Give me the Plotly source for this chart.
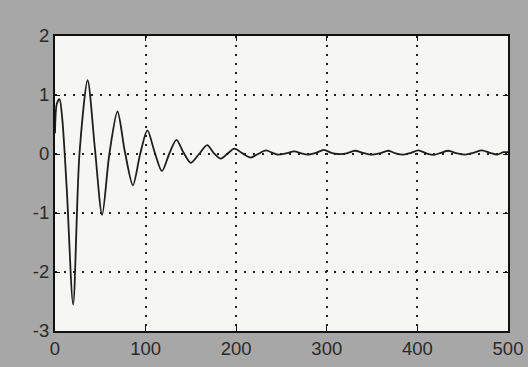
import plotly.graph_objects as go

# sample index and response value (peaks, troughs, crossings)
t_vals = [0, 2, 5, 8, 13, 20, 27, 36, 44, 52, 60, 69, 77, 86, 94, 102, 110, 118, 126,
          134, 142, 150, 159, 168, 175, 183, 190, 198, 207, 216, 224, 233, 240, 246,
          255, 264, 272, 279, 288, 297, 305, 312, 322, 331, 340, 349, 358, 368, 376,
          385, 393, 401, 410, 418, 426, 434, 444, 453, 462, 471, 480, 488, 495, 500]
y_vals = [0.35, 0.85, 0.93, 0.6, -0.6, -2.55, 0.0, 1.25, 0.1, -1.03, 0.0, 0.72, 0.05,
          -0.53, 0.0, 0.40, 0.03, -0.29, 0.0, 0.24, 0.02, -0.15, 0.0, 0.15, 0.02, -0.08,
          0.0, 0.09, 0.01, -0.06, 0.0, 0.06, 0.02, -0.01, 0.01, 0.045, 0.01, -0.01, 0.02,
          0.07, 0.02, 0.0, 0.01, 0.055, 0.02, -0.01, 0.01, 0.055, 0.01, -0.01, 0.02, 0.06,
          0.01, -0.015, 0.02, 0.055, 0.01, -0.01, 0.02, 0.06, 0.02, -0.01, 0.03, 0.03]

x_ticks = [0, 100, 200, 300, 400, 500]
y_ticks = [-3, -2, -1, 0, 1, 2]

fig = go.Figure()
fig.add_trace(go.Scatter(
    x=t_vals, y=y_vals, mode="lines",
    line=dict(color="#1e1e1e", width=1.8, shape="spline", smoothing=0.8),
    showlegend=False, hoverinfo="skip",
))

font = dict(family="Liberation Sans, Arial, sans-serif", size=18.5, color="#2a2a2a")

axis_common = dict(
    showgrid=True, gridcolor="#222222", griddash="2px,7px", gridwidth=1.5,
    showline=True, linecolor="#111111", linewidth=2, mirror="ticks",
    ticks="inside", ticklen=5, tickcolor="#111111", zeroline=False,
    tickfont=font, automargin=False,
)

fig.update_layout(
    width=528, height=367,
    margin=dict(l=55, r=20, t=36, b=36),
    paper_bgcolor="#a7a7a7",
    plot_bgcolor="#f6f6f4",
    font=font,
    xaxis=dict(range=[0, 500], tickvals=x_ticks, ticktext=[str(v) for v in x_ticks],
               **axis_common),
    yaxis=dict(range=[-3, 2], tickvals=y_ticks, ticktext=[str(v) for v in y_ticks],
               **axis_common),
)

fig.write_html(
    "out.html",
    config={"displayModeBar": False},
    post_script="document.body.style.margin='0';document.body.style.background='#a7a7a7';",
)
